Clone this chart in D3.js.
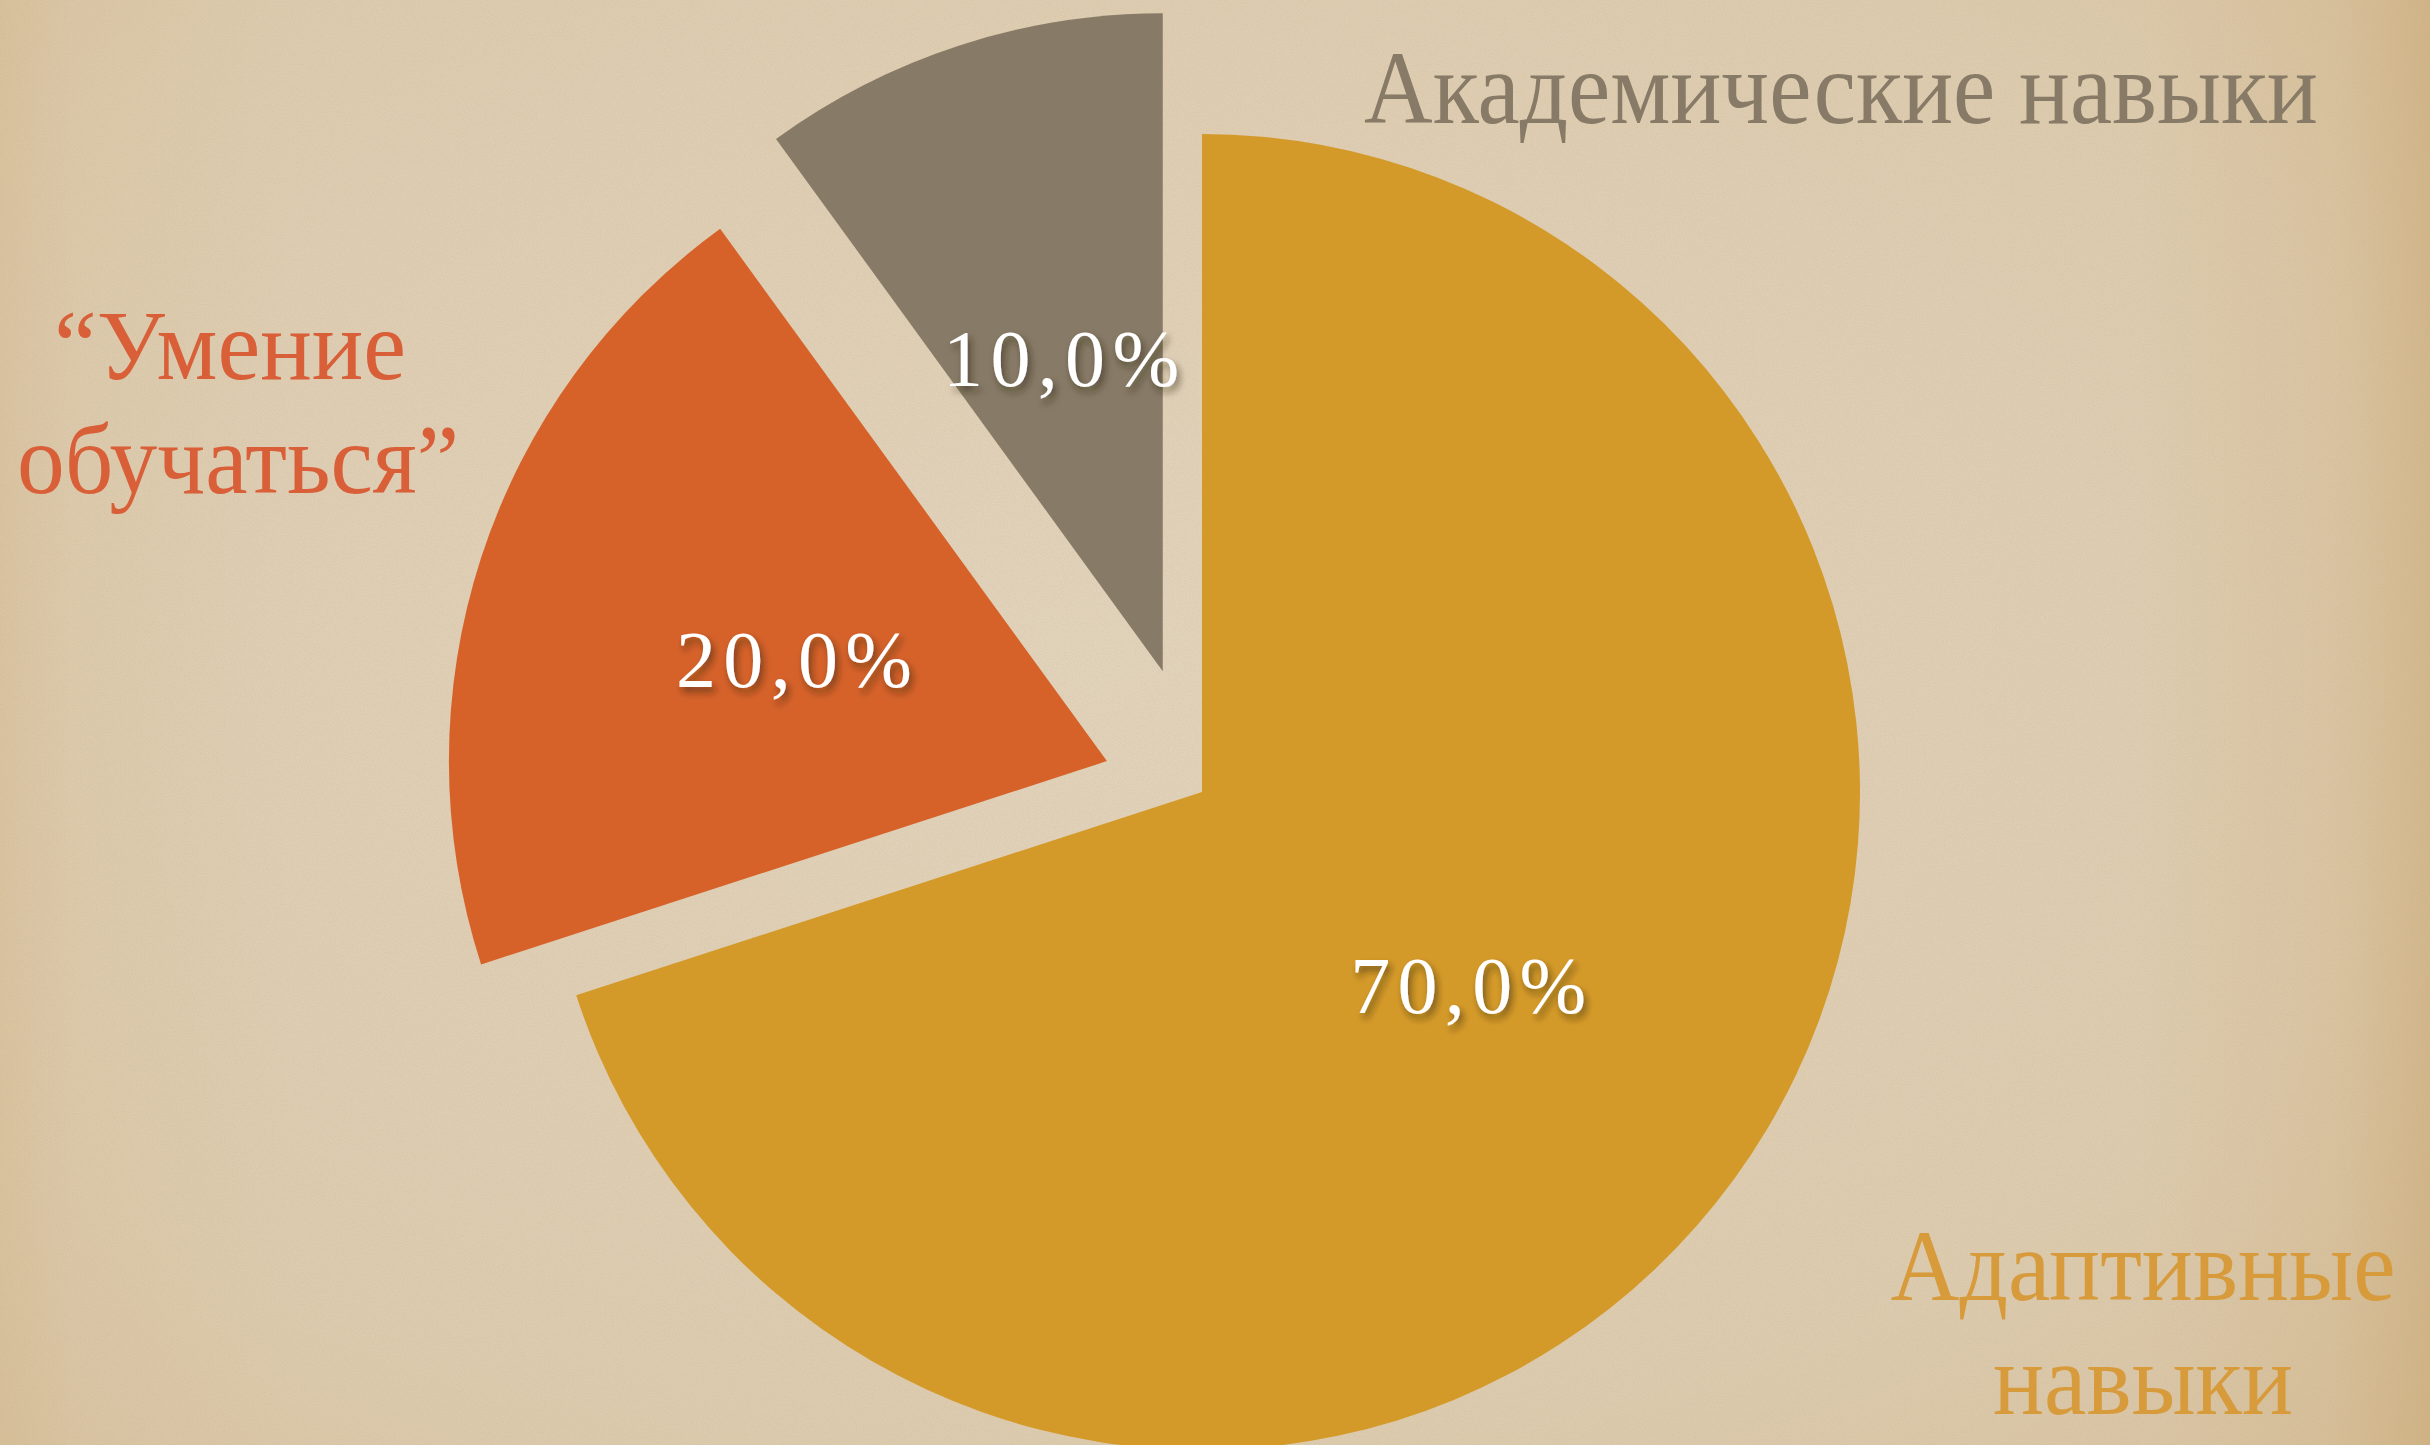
<!DOCTYPE html>
<html><head><meta charset="utf-8">
<script src="https://cdn.jsdelivr.net/npm/d3@7"></script>
<style>html,body{margin:0;padding:0;background:#e0cfb2;overflow:hidden}</style>
</head><body><svg id="chart" width="2430" height="1445"></svg>
<script>
// ---- data ----
const categories = ["Адаптивные навыки", "“Умение обучаться”", "Академические навыки"];
const values = [70, 20, 10];
const labelLines = [["Адаптивные", "навыки"], ["“Умение", "обучаться”"], ["Академические навыки"]];

// ---- style / layout ----
const W = 2430, H = 1445;
const cx = 1202, cy = 792, R = 658;
const explode = [0, 100, 127];
const sliceColors = ["#d49a29", "#d6622a", "#877a66"];
const textColors = ["#d89b3c", "#d95f38", "#877a66"];
const labelPos = [
  {x: [2143, 2143], y: [1300, 1414], size: 102, anchor: "middle", len: [505, 300]},
  {x: [230, 238], y: [379, 493], size: 100, anchor: "middle", len: [352, 442]},
  {x: [1364], y: [123], size: 104, anchor: "start", len: [954]}
];

const svg = d3.select("#chart");
const defs = svg.append("defs");

// background gradients
const rg = defs.append("radialGradient").attr("id", "bgR").attr("cx", "45%").attr("cy", "45%").attr("r", "80%");
rg.append("stop").attr("offset", "0%").attr("stop-color", "#e2d3bb");
rg.append("stop").attr("offset", "70%").attr("stop-color", "#ddcbae");
rg.append("stop").attr("offset", "100%").attr("stop-color", "#d8c29f");

const lg = defs.append("linearGradient").attr("id", "bgL").attr("x1", "0").attr("x2", "1").attr("y1", "0").attr("y2", "0");
lg.append("stop").attr("offset", "0%").attr("stop-color", "#cfae78").attr("stop-opacity", 0.3);
lg.append("stop").attr("offset", "3%").attr("stop-color", "#cfae78").attr("stop-opacity", 0.1);
lg.append("stop").attr("offset", "12%").attr("stop-color", "#cfae78").attr("stop-opacity", 0);
lg.append("stop").attr("offset", "88%").attr("stop-color", "#caa365").attr("stop-opacity", 0);
lg.append("stop").attr("offset", "96%").attr("stop-color", "#caa365").attr("stop-opacity", 0.18);
lg.append("stop").attr("offset", "100%").attr("stop-color", "#c49a58").attr("stop-opacity", 0.4);

const noise = defs.append("filter").attr("id", "noise").attr("x", 0).attr("y", 0).attr("width", "100%").attr("height", "100%");
noise.append("feTurbulence").attr("type", "fractalNoise").attr("baseFrequency", 0.9).attr("numOctaves", 2).attr("seed", 3).attr("result", "t");
noise.append("feColorMatrix").attr("type", "matrix")
  .attr("values", "0 0 0 0 0.45  0 0 0 0 0.38  0 0 0 0 0.28  0 0 0 -1.2 0.75");

const shadow = defs.append("filter").attr("id", "tshadow").attr("x", "-20%").attr("y", "-30%").attr("width", "140%").attr("height", "170%");
shadow.append("feDropShadow").attr("dx", 3).attr("dy", 5).attr("stdDeviation", 3.5)
  .attr("flood-color", "#2a1a08").attr("flood-opacity", 0.55);

svg.append("rect").attr("width", W).attr("height", H).attr("fill", "url(#bgR)");
svg.append("rect").attr("width", W).attr("height", H).attr("fill", "url(#bgL)");
svg.append("rect").attr("width", W).attr("height", H).attr("filter", "url(#noise)").attr("opacity", 0.3);

// ---- pie ----
const pie = d3.pie().sort(null).value(d => d).startAngle(0).endAngle(2 * Math.PI);
const arcs = pie(values);
const arc = d3.arc().innerRadius(0).outerRadius(R);
const fmt = v => d3.format(".1f")(v).replace(".", ",") + "%";

const g = svg.append("g").attr("transform", `translate(${cx},${cy})`);
const slices = g.selectAll("g.slice").data(arcs).join("g").attr("class", "slice")
  .attr("transform", (d, i) => {
    const m = (d.startAngle + d.endAngle) / 2;
    return `translate(${Math.sin(m) * explode[i]},${-Math.cos(m) * explode[i]})`;
  });
slices.append("path").attr("d", arc).attr("fill", (d, i) => sliceColors[i]);

slices.append("text")
  .attr("x", d => arc.centroid(d)[0])
  .attr("y", d => arc.centroid(d)[1] + 28)
  .attr("text-anchor", "middle")
  .attr("font-family", "'Liberation Serif', serif")
  .attr("font-size", 80)
  .attr("fill", "#ffffff")
  .attr("textLength", 236)
  .attr("lengthAdjust", "spacing")
  .attr("filter", "url(#tshadow)")
  .text(d => fmt(d.value));

// ---- category labels ----
labelLines.forEach((lines, i) => {
  const p = labelPos[i];
  const t = svg.append("g");
  lines.forEach((ln, j) => {
    t.append("text")
      .attr("x", p.x[j]).attr("y", p.y[j])
      .attr("text-anchor", p.anchor)
      .attr("font-family", "'Liberation Serif', 'Times New Roman', serif")
      .attr("font-size", p.size)
      .attr("fill", textColors[i])
      .attr("textLength", p.len[j])
      .attr("lengthAdjust", "spacingAndGlyphs")
      .text(ln);
  });
});
</script>
</body></html>
